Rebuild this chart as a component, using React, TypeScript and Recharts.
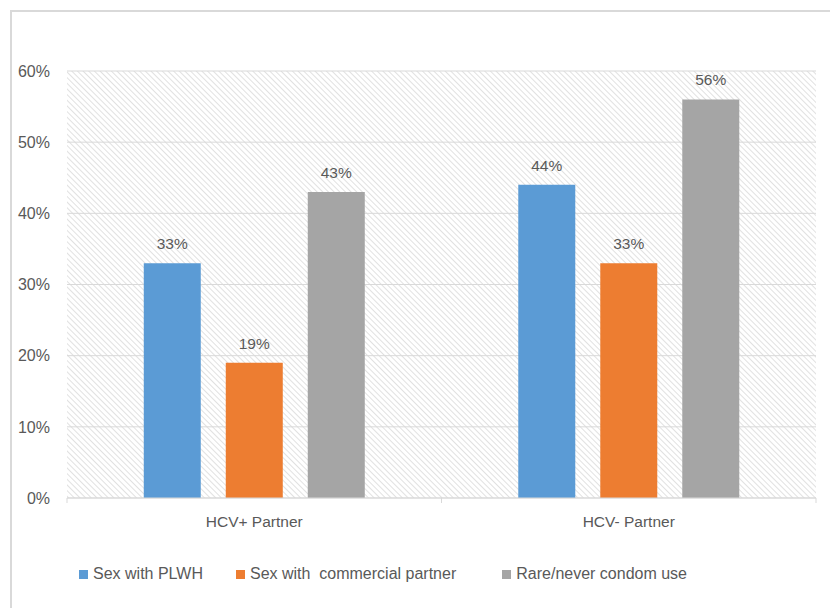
import { Bar, BarChart, CartesianGrid, LabelList, XAxis, YAxis } from "recharts"

const categories = ["HCV+ Partner", "HCV- Partner"]
const plwh = [33, 44]
const commercial = [19, 33]
const condom = [43, 56]
const yTicks = [0, 10, 20, 30, 40, 50, 60]

const series = [
  { key: "plwh", name: "Sex with PLWH", color: "#5B9BD5" },
  { key: "commercial", name: "Sex with  commercial partner", color: "#ED7D31" },
  { key: "condom", name: "Rare/never condom use", color: "#A5A5A5" },
]

const data = categories.map((c, i) => ({
  name: c,
  plwh: plwh[i],
  commercial: commercial[i],
  condom: condom[i],
}))

const TEXT = "#595959"
const FONT = "'Liberation Sans', Arial, sans-serif"

function CategoryTick({ x, y, payload }: any) {
  const half = (816 - 67) / categories.length / 2
  return (
    <g>
      <line x1={x - half} x2={x - half} y1={y - 8} y2={y - 3} stroke="#d9d9d9" />
      <line x1={x + half} x2={x + half} y1={y - 8} y2={y - 3} stroke="#d9d9d9" />
      <text x={x} y={y + 21} textAnchor="middle" fill={TEXT} fontSize={15.5} fontFamily={FONT}>
        {payload.value}
      </text>
    </g>
  )
}

function LegendBlock() {
  return (
    <div
      style={{
        position: "absolute",
        left: 79,
        top: 565,
        display: "flex",
        fontFamily: FONT,
        fontSize: 16,
        color: TEXT,
      }}
    >
      {series.map((s, i) => (
        <div
          key={s.key}
          style={{ display: "flex", alignItems: "center", marginRight: i === 0 ? 33 : 46, whiteSpace: "pre" }}
        >
          <span style={{ width: 9, height: 9, background: s.color, marginRight: 5, display: "inline-block" }} />
          {s.name}
        </div>
      ))}
    </div>
  )
}

export default function App() {
  return (
    <div style={{ position: "absolute", left: 0, top: 0, width: 830, height: 608, overflow: "hidden", background: "#fff" }}>
      <div
        style={{
          position: "absolute",
          left: 10,
          top: 10,
          width: 840,
          height: 640,
          border: "2px solid #d9d9d9",
        }}
      />
      <div style={{ position: "absolute", left: 0, top: 0 }}>
        <BarChart
          width={830}
          height={608}
          data={data}
          margin={{ top: 71, right: 14, left: 0, bottom: 80 }}
          barCategoryGap="20.5%"
          barGap={25}
        >
          <defs>
            <pattern id="hatch" width="4" height="4" patternUnits="userSpaceOnUse" patternTransform="rotate(-45)">
              <rect width="4" height="4" fill="#ffffff" />
              <line x1="0" y1="0" x2="0" y2="4" stroke="#dadada" strokeWidth="1.6" />
            </pattern>
          </defs>
          <CartesianGrid vertical={false} stroke="#d9d9d9" fill="url(#hatch)" fillOpacity={1} />
          <XAxis
            dataKey="name"
            axisLine={{ stroke: "#d9d9d9" }}
            tickLine={false}
            tick={<CategoryTick />}
            interval={0}
          />
          <YAxis
            domain={[0, 60]}
            ticks={yTicks}
            width={67}
            axisLine={false}
            tickLine={false}
            tickSize={0}
            tickMargin={17}
            tickFormatter={(v) => `${v}%`}
            tick={{ fill: TEXT, fontSize: 16, fontFamily: FONT }}
          />
          {series.map((s) => (
            <Bar key={s.key} dataKey={s.key} name={s.name} fill={s.color} isAnimationActive={false}>
              <LabelList
                dataKey={s.key}
                position="top"
                offset={14}
                formatter={(v: any) => `${v}%`}
                style={{ fill: TEXT, fontSize: 15.5, fontFamily: FONT }}
              />
            </Bar>
          ))}
        </BarChart>
      </div>
      <LegendBlock />
    </div>
  )
}
